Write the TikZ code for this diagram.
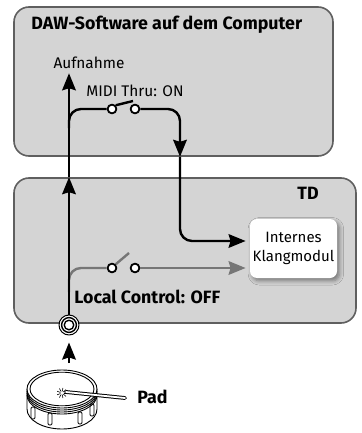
\documentclass[tikz,border=0pt]{standalone}
\usepackage{fontspec}
\setmainfont{Fira Sans}
\usetikzlibrary{arrows.meta,shadows.blur}

\definecolor{boxfill}{RGB}{212,212,212}
\definecolor{boxline}{RGB}{95,95,95}
\definecolor{offline}{RGB}{118,118,118}

\tikzset{
  panel/.style={draw=boxline, fill=boxfill, line width=0.8pt, rounded corners=7.5pt, inner sep=0pt},
  wire/.style={line width=1.2pt},
  sig/.style={wire, -{Stealth[length=8.5pt,width=6.8pt,inset=1pt]}},
  contact/.style={circle, draw=black, fill=white, line width=0.9pt, minimum size=4.4pt, inner sep=0pt},
  lbl/.style={font=\fontsize{7.7}{8}\selectfont, inner sep=0pt},
  head/.style={font=\fontsize{8.9}{9}\selectfont\bfseries, inner sep=0pt},
  drum/.style={line width=0.45pt, fill=white},
}

\begin{document}
\begin{tikzpicture}[x=0.5pt, y=-0.5pt, line join=round]
  \useasboundingbox (0,0) rectangle (361,433);

  % the two units
  \node[panel, minimum width=159.5pt, minimum height=74.5pt] (dawbox) at (173.5,81.5) {};
  \node[panel, minimum width=171pt, minimum height=72.5pt] (tdbox) at (185,250.5) {};

  % labels
  \node[head, anchor=west] (daw) at (31,25) {DAW-Software auf dem Computer};
  \node[head] (td) at (308,193) {TD};
  \node[lbl] (rec) at (89,63) {Aufnahme};
  \node[lbl, anchor=west] (thru) at (86,91) {MIDI Thru: ON};
  \node[head, anchor=west] (local) at (74,297) {Local Control: OFF};
  \node[head, anchor=west] (pad) at (137,397) {Pad};

  % sound module
  \node[lbl, font=\fontsize{7.5}{9.5}\selectfont, align=center, fill=white, rounded corners=3.5pt,
        minimum width=43.5pt, minimum height=29.5pt,
        blur shadow={shadow xshift=1.2pt, shadow yshift=-1.4pt, shadow blur steps=6, shadow opacity=45}]
        (synth) at (293.5,248.5) {Internes\\Klangmodul};

  % switch contacts
  \node[contact] (s1) at (112,109) {};
  \node[contact] (s2) at (135,109) {};
  \node[contact] (s3) at (112,268) {};
  \node[contact] (s4) at (135,268) {};

  % input jack
  \node[circle, draw, fill=white, line width=0.5pt, minimum size=10pt, inner sep=0pt] (jack) at (69,325) {};
  \draw[line width=0.7pt] (jack.center) circle (3.7pt) (jack.center) circle (2.4pt);

  \coordinate (bend) at (180,0);
  \coordinate (drumtop) at (69,363);
  \coordinate (hit) at (62,393);

  % local control (off)
  \draw[wire, offline, rounded corners=6pt] (69,292) |- (s3.west);
  \draw[wire, offline] (s3.north east) -- (129,253);
  \draw[sig, offline, shorten >=2pt] (s4.east) -- ([yshift=-9.75pt]synth.west);

  % MIDI out to the computer and back
  \draw[sig] (jack.north) -- (jack |- tdbox.north);
  \draw[sig, shorten >=2pt] (jack |- tdbox.north) -- (jack |- rec.south);
  \draw[wire, rounded corners=6pt] (69,128) |- (s1.west);
  \draw[wire] (s1.north east) -- (133,101);
  \draw[sig, rounded corners=6pt] (s2.east) -| (bend |- dawbox.south);
  \draw[sig, rounded corners=6pt, shorten >=2pt] (bend |- dawbox.south) |- ([yshift=3.75pt]synth.west);

  % drum pad
  \draw[drum] (27,389) -- (27,409) arc[start angle=180, end angle=360, x radius=17.5pt, y radius=10pt] -- (97,389);
  \foreach \lx/\ly in {33/407, 50/413, 80/412, 92/404}
    \draw[drum, rounded corners=0.6pt] (\lx-2,\ly) rectangle (\lx+2,\ly+12);
  \foreach \d in {2,4,6}
    \draw[drum, fill=none] (27,389+\d) arc[start angle=180, end angle=360, x radius=17.5pt, y radius=9.5pt];
  \draw[drum] (62,389) ellipse[x radius=17.5pt, y radius=9.5pt];
  \draw[drum, fill=none] (62,389) ellipse[x radius=16pt, y radius=8.4pt];
  \foreach \a in {0,40,...,320}
    \draw[line width=0.3pt] ([shift={(\a:0.8pt)}]hit) -- ([shift={(\a:2.6pt)}]hit);
  \draw[line width=1.9pt, line cap=round] (66,392) -- (125,398);
  \draw[white, line width=0.9pt, line cap=round] (66,392) -- (125,398);
  \draw[sig, shorten >=3.5pt] (drumtop) -- (jack.south);
\end{tikzpicture}
\end{document}
